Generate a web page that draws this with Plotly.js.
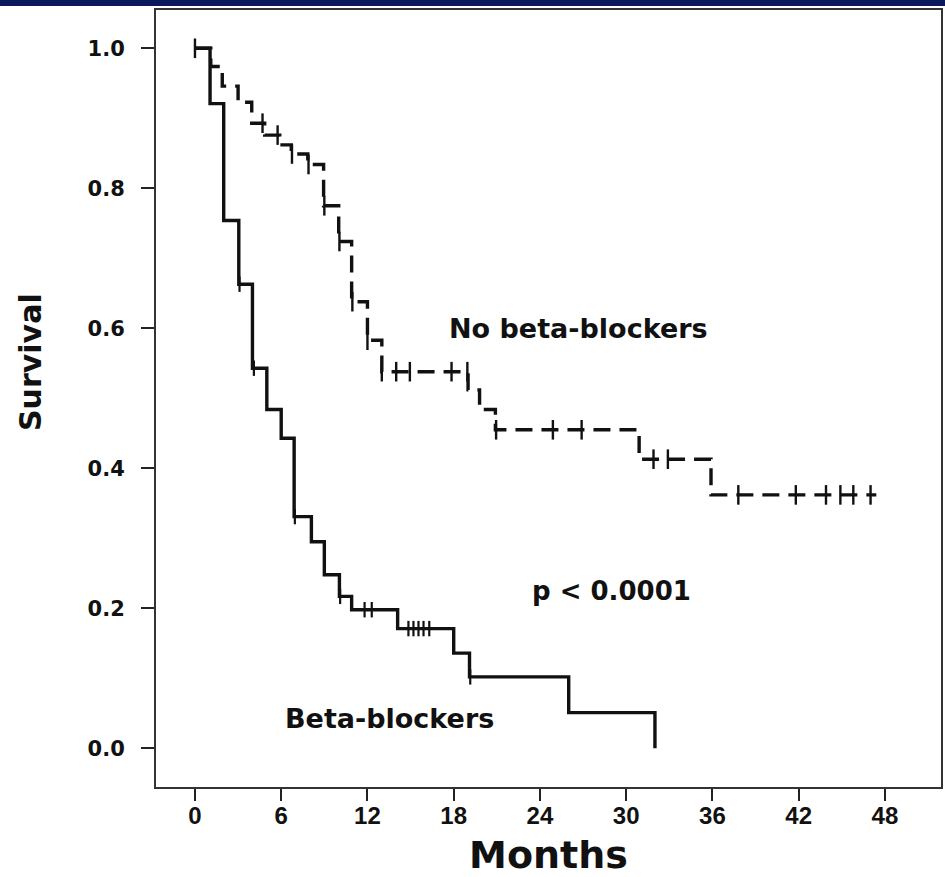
<!DOCTYPE html>
<html>
<head>
<meta charset="utf-8">
<script src="https://cdn.plot.ly/plotly-3.0.1.min.js"></script>
<style>
  html, body { margin: 0; padding: 0; background: #ffffff; }
  #chart { width: 945px; height: 877px; }
</style>
</head>
<body>
<div id="chart"></div>
<script>
// Beta-blockers (solid step curve)
const bbTimes = [0, 1.05, 2, 3.05, 4, 5, 6, 6.9, 8.1, 9, 10.05, 10.9, 14.1, 18, 19.1, 26, 32];
const bbSurv  = [1.0, 0.921, 0.754, 0.663, 0.543, 0.484, 0.443, 0.331, 0.295, 0.248, 0.217, 0.198, 0.171, 0.136, 0.102, 0.051, 0.0];
const bbCensorTimes = [3.1, 4.1, 6.95, 10.1, 11.8, 12.3, 14.85, 15.2, 15.55, 15.9, 16.3, 19.15];

// No beta-blockers (dashed step curve)
const nbTimes = [0, 1.1, 1.9, 3, 3.95, 4.85, 5.9, 6.7, 7.85, 8.95, 10, 10.9, 12, 13, 19, 19.8, 20.9, 30.9, 35.9, 47.4];
const nbSurv  = [1.0, 0.974, 0.946, 0.923, 0.893, 0.876, 0.862, 0.849, 0.834, 0.775, 0.724, 0.638, 0.583, 0.538, 0.512, 0.484, 0.455, 0.413, 0.362, 0.362];
const nbCensorTimes = [0, 4.7, 5.75, 6.75, 7.9, 9.0, 10.05, 10.95, 12.0, 13.0, 14.0, 14.95, 17.85, 18.95, 20.95, 24.9, 26.9, 31.9, 32.9, 37.8, 41.8, 43.9, 44.9, 45.8, 47.0];

// Axis ticks
const xTicks = [0, 6, 12, 18, 24, 30, 36, 42, 48];
const yTicks = [0.0, 0.2, 0.4, 0.6, 0.8, 1.0];
const yTickText = ["0.0", "0.2", "0.4", "0.6", "0.8", "1.0"];

// Labels
const groupLabels = ["No beta-blockers", "Beta-blockers"];
const pValueText = "p < 0.0001";
const xTitle = "Months";
const yTitle = "Survival";

function survAt(times, surv, t) {
  let v = surv[0];
  for (let i = 0; i < times.length; i++) { if (times[i] <= t) v = surv[i]; }
  return v;
}

const ink = '#111111';

const traces = [
  {
    x: nbTimes, y: nbSurv, type: 'scatter', mode: 'lines', name: groupLabels[0],
    line: { shape: 'hv', color: ink, width: 3.4, dash: '17px,9px' }, hoverinfo: 'x+y'
  },
  {
    x: nbCensorTimes, y: nbCensorTimes.map(t => survAt(nbTimes, nbSurv, t)),
    type: 'scatter', mode: 'markers', name: groupLabels[0] + ' censored',
    marker: { symbol: 'line-ns-open', size: 14, color: ink, line: { color: ink, width: 2.4 } }
  },
  {
    x: bbTimes, y: bbSurv, type: 'scatter', mode: 'lines', name: groupLabels[1],
    line: { shape: 'hv', color: ink, width: 3.4 }, hoverinfo: 'x+y'
  },
  {
    x: bbCensorTimes, y: bbCensorTimes.map(t => survAt(bbTimes, bbSurv, t)),
    type: 'scatter', mode: 'markers', name: groupLabels[1] + ' censored',
    marker: { symbol: 'line-ns-open', size: 11, color: ink, line: { color: ink, width: 2.2 } }
  }
];

const annFont = { family: 'DejaVu Sans, Arial, sans-serif', size: 27, color: ink, weight: 'bold' };

const layout = {
  width: 945, height: 877,
  margin: { l: 156, r: 4, t: 10, b: 90 },
  paper_bgcolor: '#ffffff', plot_bgcolor: '#ffffff',
  showlegend: false,
  xaxis: {
    range: [-2.71, 51.9], tickvals: xTicks, ticktext: xTicks.map(String),
    showgrid: false, zeroline: false,
    showline: true, linecolor: '#333333', linewidth: 2, mirror: true,
    ticks: 'outside', ticklen: 12, tickwidth: 2, tickcolor: '#222222',
    ticklabelstandoff: -6,
    tickfont: { family: 'Liberation Sans, Arial, sans-serif', size: 24, color: ink, weight: 'bold' },
    title: { text: xTitle, standoff: 16,
      font: { family: 'DejaVu Sans, Arial, sans-serif', size: 38, color: ink, weight: 'bold' } }
  },
  yaxis: {
    range: [-0.0553, 1.0547], tickvals: yTicks, ticktext: yTickText,
    showgrid: false, zeroline: false,
    showline: true, linecolor: '#333333', linewidth: 2, mirror: true,
    ticks: 'outside', ticklen: 13, tickwidth: 2, tickcolor: '#222222',
    ticklabelstandoff: 12,
    tickfont: { family: 'DejaVu Sans, Arial, sans-serif', size: 21, color: ink, weight: 'bold' },
    title: { text: '' }
  },
  annotations: [
    { x: -0.1592, y: 0.547, xref: 'paper', yref: 'paper', text: yTitle, showarrow: false,
      textangle: -90, xanchor: 'center', yanchor: 'middle',
      font: { family: 'DejaVu Sans, Arial, sans-serif', size: 30, color: ink, weight: 'bold' } },
    { x: 17.5, y: 0.600, xref: 'x', yref: 'y', text: groupLabels[0], showarrow: false,
      xanchor: 'left', yanchor: 'middle', font: annFont },
    { x: 23.3, y: 0.224, xref: 'x', yref: 'y', text: pValueText, showarrow: false,
      xanchor: 'left', yanchor: 'middle', font: Object.assign({}, annFont, { size: 26 }) },
    { x: 6.1, y: 0.042, xref: 'x', yref: 'y', text: groupLabels[1], showarrow: false,
      xanchor: 'left', yanchor: 'middle', font: annFont }
  ],
  shapes: [
    { type: 'rect', xref: 'paper', yref: 'paper', x0: -0.25, x1: 1.05, y0: 1.0052, y1: 1.03,
      fillcolor: '#0b1a5c', line: { width: 0 }, layer: 'above' }
  ]
};

Plotly.newPlot('chart', traces, layout, { staticPlot: true, displayModeBar: false });
</script>
</body>
</html>
